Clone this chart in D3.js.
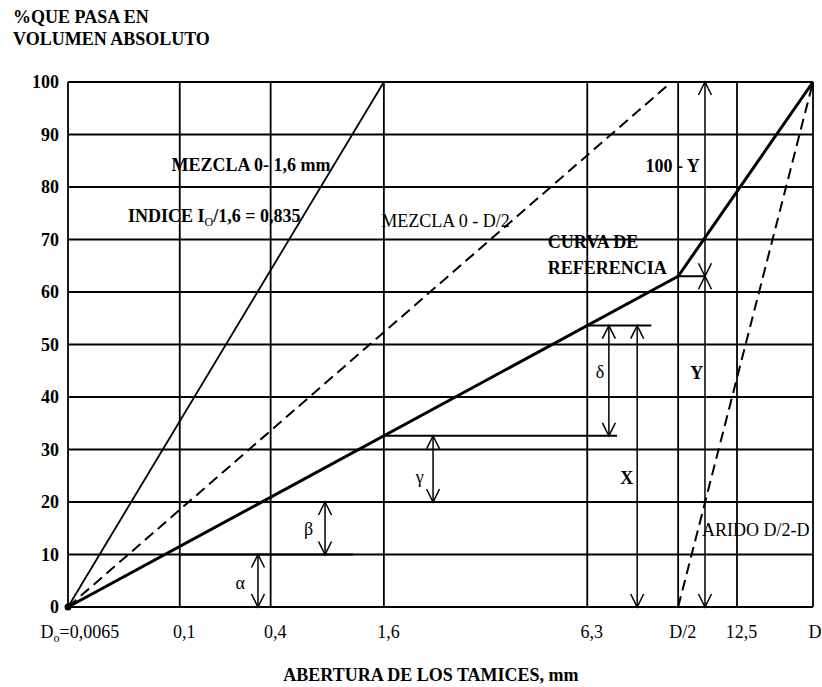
<!DOCTYPE html>
<html>
<head>
<meta charset="utf-8">
<script src="https://cdn.jsdelivr.net/npm/d3@7"></script>
<style>
	body { margin: 0; background: #fff; }
	text { font-family: "Liberation Serif", "Times New Roman", serif; fill: #000; }
</style>
</head>
<body>
<div id="chart"></div>
<script>
// sieve openings: labels and their position along the (schematic) axis, 0..100
var xTickLabels = ["D0=0,0065", "0,1", "0,4", "1,6", "6,3", "D/2", "12,5", "D"];
var xTickPos = [0, 15.0, 27.2, 42.4, 69.7, 81.9, 89.8, 100];
var yTicks = [0, 10, 20, 30, 40, 50, 60, 70, 80, 90, 100];

// curves, [axis position, % passing]
var mezcla16 = [[0, 0], [42.4, 100]];
var mezclaD2 = [[0, 0], [81.0, 100]];
var curvaRef = [[0, 0], [81.9, 63], [100, 100]];
var aridoD2D = [[81.9, 0], [100, 100]];

// horizontal construction lines: [% passing, from, to]
var guides = [[10, 15.0, 38.3], [20, 27.2, 49.5], [32.6, 42.4, 73.7], [53.6, 69.7, 78.3], [63, 81.9, 85.5]];

// double arrows: [position, from %, to %]
var arrows = [[25.5, 0, 10], [34.5, 10, 20], [49.0, 20, 32.6], [72.6, 32.6, 53.6], [76.4, 0, 53.6], [85.5, 0, 63], [85.5, 63, 100]];

// labels: text, position, %, anchor, bold
var notes = [
	["α", 23.1, 3.4, "middle", false],
	["β", 32.3, 13.7, "middle", false],
	["γ", 47.2, 23.6, "middle", false],
	["δ", 71.4, 43.6, "middle", false],
	["X", 75.0, 23.4, "middle", true],
	["Y", 84.4, 43.4, "middle", true],
	["100 - Y", 84.8, 82.9, "end", true],
	["CURVA DE", 64.4, 68.4, "start", true],
	["REFERENCIA", 64.4, 63.4, "start", true],
	["MEZCLA 0 - D/2", 59.3, 72.4, "end", false],
	["MEZCLA 0- 1,6 mm", 13.9, 83.0, "start", true],
	["ARIDO D/2-D", 85.1, 13.5, "start", false]
];

var margin = {top: 82, right: 9, bottom: 80, left: 68},
	width = 822 - margin.left - margin.right,
	height = 687 - margin.top - margin.bottom;

var root = d3.select("#chart").append("svg")
	.attr("width", 822)
	.attr("height", 687);

root.append("text")
	.attr("x", 13).attr("y", 23)
	.style("font-weight", "bold").style("font-size", "18px")
	.text("%QUE PASA EN");
root.append("text")
	.attr("x", 13).attr("y", 45)
	.style("font-weight", "bold").style("font-size", "18px")
	.text("VOLUMEN ABSOLUTO");
root.append("text")
	.attr("x", 431).attr("y", 681)
	.attr("text-anchor", "middle")
	.style("font-weight", "bold").style("font-size", "18px")
	.text("ABERTURA DE LOS TAMICES, mm");

var svg = root.append("g")
	.attr("transform", "translate(" + margin.left + "," + margin.top + ")");

var x = d3.scaleLinear().domain([0, 100]).range([0, width]);
var y = d3.scaleLinear().domain([0, 100]).range([height, 0]);

// grid
svg.selectAll(".hgrid")
	.data(yTicks)
.enter().append("line")
	.attr("x1", 0).attr("x2", width)
	.attr("y1", function(d) { return y(d); })
	.attr("y2", function(d) { return y(d); })
	.attr("stroke", "#000").attr("stroke-width", 1.8);
svg.selectAll(".vgrid")
	.data(xTickPos)
.enter().append("line")
	.attr("x1", function(d) { return x(d); })
	.attr("x2", function(d) { return x(d); })
	.attr("y1", 0).attr("y2", height)
	.attr("stroke", "#000").attr("stroke-width", 1.8);

// axes
var yAxis = d3.axisLeft(y).tickValues(yTicks).tickSize(0).tickPadding(9);
var ya = svg.append("g").call(yAxis);
ya.select(".domain").remove();
ya.selectAll("text")
	.style("font-family", "Liberation Serif")
	.style("font-size", "18px")
	.style("font-weight", "bold");

var xAxis = d3.axisBottom(x).tickValues(xTickPos).tickSize(0)
	.tickFormat(function(d, i) { return xTickLabels[i]; });
var xa = svg.append("g")
	.attr("transform", "translate(0," + height + ")")
	.call(xAxis);
xa.select(".domain").remove();
xa.selectAll("text")
	.attr("y", 31).attr("dy", 0).attr("dx", 4)
	.style("font-family", "Liberation Serif")
	.style("font-size", "18px");
xa.selectAll("text").filter(function(d, i) { return i === xTickPos.length - 1; })
	.attr("text-anchor", "end").attr("dx", 8);
xa.selectAll("text").filter(function(d, i) { return i === 0; })
	.attr("text-anchor", "start").attr("dx", -28)
	.text(null)
	.call(function(t) {
		t.append("tspan").text("D");
		t.append("tspan").attr("dy", 4).style("font-size", "12px").text("o");
		t.append("tspan").attr("dy", -4).text("=0,0065");
	});

// curves
var line = d3.line()
	.x(function(d) { return x(d[0]); })
	.y(function(d) { return y(d[1]); });

svg.append("path").datum(mezcla16)
	.attr("d", line).attr("fill", "none")
	.attr("stroke", "#000").attr("stroke-width", 1.8);
svg.append("path").datum(mezclaD2)
	.attr("d", line).attr("fill", "none")
	.attr("stroke", "#000").attr("stroke-width", 2)
	.attr("stroke-dasharray", "11,6");
svg.append("path").datum(aridoD2D)
	.attr("d", line).attr("fill", "none")
	.attr("stroke", "#000").attr("stroke-width", 2)
	.attr("stroke-dasharray", "11,6");
svg.append("path").datum(curvaRef)
	.attr("d", line).attr("fill", "none")
	.attr("stroke", "#000").attr("stroke-width", 3)
	.attr("stroke-linejoin", "round");
svg.append("circle")
	.attr("cx", x(0)).attr("cy", y(0)).attr("r", 3.5);

// construction lines
svg.selectAll(".guide")
	.data(guides)
.enter().append("line")
	.attr("x1", function(d) { return x(d[1]); })
	.attr("x2", function(d) { return x(d[2]); })
	.attr("y1", function(d) { return y(d[0]); })
	.attr("y2", function(d) { return y(d[0]); })
	.attr("stroke", "#000").attr("stroke-width", 2);

// arrows
function head(px, py, dir) {
	// dir -1 points up, 1 points down
	return "M" + (px - 6.5) + "," + (py - dir * 13) + "L" + px + "," + py + "L" + (px + 6.5) + "," + (py - dir * 13);
}
var ag = svg.selectAll(".arrow")
	.data(arrows)
.enter().append("g");
ag.append("line")
	.attr("x1", function(d) { return x(d[0]); })
	.attr("x2", function(d) { return x(d[0]); })
	.attr("y1", function(d) { return y(d[1]); })
	.attr("y2", function(d) { return y(d[2]); })
	.attr("stroke", "#000").attr("stroke-width", 1.5);
ag.append("path")
	.attr("d", function(d) { return head(x(d[0]), y(d[1]), 1) + head(x(d[0]), y(d[2]), -1); })
	.attr("fill", "none").attr("stroke", "#000").attr("stroke-width", 1.5);

// labels
svg.selectAll(".note")
	.data(notes)
.enter().append("text")
	.attr("x", function(d) { return x(d[1]); })
	.attr("y", function(d) { return y(d[2]); })
	.attr("text-anchor", function(d) { return d[3]; })
	.style("font-size", "18px")
	.style("font-weight", function(d) { return d[4] ? "bold" : "normal"; })
	.text(function(d) { return d[0]; });

var idx = svg.append("text")
	.attr("x", x(8.05)).attr("y", y(73.3))
	.style("font-size", "18px").style("font-weight", "bold");
idx.append("tspan").text("INDICE I");
idx.append("tspan").attr("dy", 4).style("font-size", "12px").style("font-weight", "normal").text("O");
idx.append("tspan").attr("dy", -4).text("/1,6 = 0,835");
</script>
</body>
</html>
